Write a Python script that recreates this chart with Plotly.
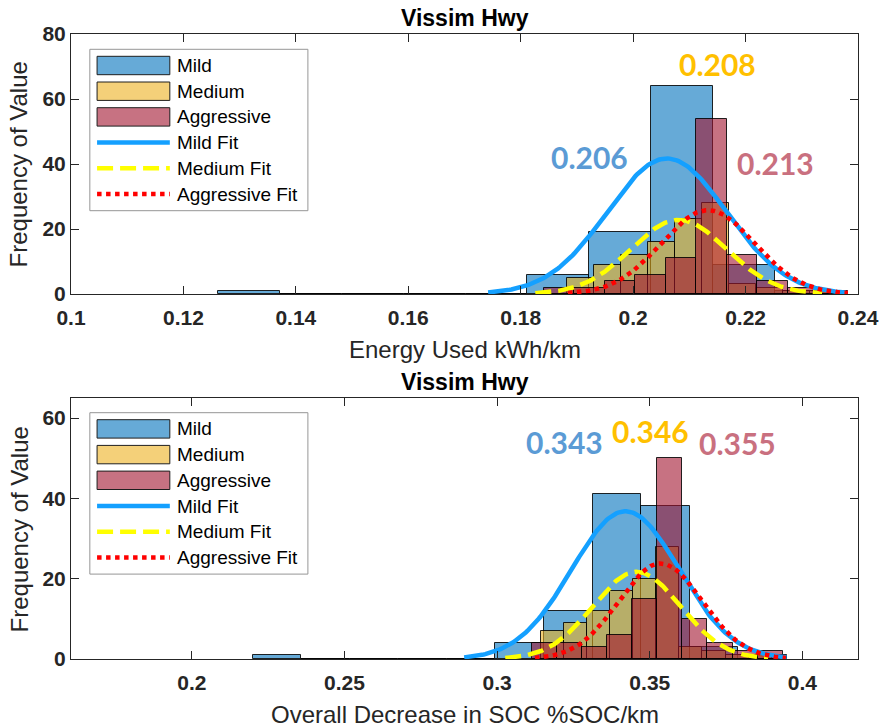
import numpy as np
import plotly.graph_objects as go

# ---------------- data ----------------
# Top panel: Energy Used kWh/km
top_mild_edge0, top_mild_width = 0.1262, 0.0110
top_mild_counts = [1, 0, 0, 0, 0, 6, 19, 64, 9, 1]
top_med_edge0, top_med_width = 0.1882, 0.0048
top_med_counts = [5, 9, 12, 16, 23, 28, 3, 2, 1, 1]
top_agg_edge0, top_agg_width = 0.1841, 0.00542
top_agg_counts = [2, 2, 4, 6, 11, 54, 12, 4, 2, 1]
# normal fits: mean, sigma, peak height
top_fit_mean = [0.2060, 0.2081, 0.2133]
top_fit_sigma = [0.0106, 0.0085, 0.0083]
top_fit_peak = [41.7, 22.8, 25.8]
top_value_labels = ["0.206", "0.208", "0.213"]
top_value_x = [0.1922, 0.2150, 0.2253]
top_value_y = [42.2, 70.8, 40.3]
top_xticks = [0.10, 0.12, 0.14, 0.16, 0.18, 0.20, 0.22, 0.24]
top_xticktext = ["0.1", "0.12", "0.14", "0.16", "0.18", "0.2", "0.22", "0.24"]
top_yticks = [0, 20, 40, 60, 80]

# Bottom panel: Overall Decrease in SOC %SOC/km
bot_mild_edge0, bot_mild_width = 0.2199, 0.01591
bot_mild_counts = [1, 0, 0, 0, 0, 4, 12, 41, 38, 3, 1]
bot_med_edge0, bot_med_width = 0.3143, 0.007565
bot_med_counts = [7, 9, 12, 17, 20, 28, 3, 2, 1, 1]
bot_agg_edge0, bot_agg_width = 0.3113, 0.008225
bot_agg_counts = [4, 4, 3, 6, 15, 50, 10, 4, 2, 2]
bot_fit_mean = [0.3420, 0.3457, 0.3535]
bot_fit_sigma = [0.0176, 0.01435, 0.0137]
bot_fit_peak = [36.8, 21.7, 23.8]
bot_value_labels = ["0.343", "0.346", "0.355"]
bot_value_x = [0.3221, 0.3503, 0.3786]
bot_value_y = [54.0, 56.9, 53.7]
bot_xticks = [0.20, 0.25, 0.30, 0.35, 0.40]
bot_xticktext = ["0.2", "0.25", "0.3", "0.35", "0.4"]
bot_yticks = [0, 20, 40, 60]

series_names = ["Mild", "Medium", "Aggressive"]
fit_names = ["Mild Fit", "Medium Fit", "Aggressive Fit"]
titles = ["Vissim Hwy", "Vissim Hwy"]
xlabels = ["Energy Used kWh/km", "Overall Decrease in SOC %SOC/km"]
ylabel = "Frequency of Value"

# ---------------- styles ----------------
bar_colors = ["rgba(0,114,189,0.6)", "rgba(237,177,32,0.6)", "rgba(162,20,47,0.6)"]
fit_colors = ["rgb(20,160,255)", "rgb(255,255,0)", "rgb(255,0,0)"]
fit_dash = ["solid", "16px,7px", "4.5px,4.5px"]
value_colors = ["#5B9BD5", "#FFC000", "#C9707F"]
FONT = "Liberation Sans, Arial, sans-serif"
AXC = "rgb(38,38,38)"

W, H = 891, 728
ML, MR, MT, MB = 71, 26, 34, 69
PW, PH = W - ML - MR, H - MT - MB


def pxx(x):
    return (x - ML) / PW


def pxy(y):
    return (H - MB - y) / PH


fig = go.Figure()

panels = [
    dict(xa="x", ya="y",
         bars=[(top_mild_edge0, top_mild_width, top_mild_counts),
               (top_med_edge0, top_med_width, top_med_counts),
               (top_agg_edge0, top_agg_width, top_agg_counts)],
         fits=(top_fit_mean, top_fit_sigma, top_fit_peak),
         vals=(top_value_labels, top_value_x, top_value_y)),
    dict(xa="x2", ya="y2",
         bars=[(bot_mild_edge0, bot_mild_width, bot_mild_counts),
               (bot_med_edge0, bot_med_width, bot_med_counts),
               (bot_agg_edge0, bot_agg_width, bot_agg_counts)],
         fits=(bot_fit_mean, bot_fit_sigma, bot_fit_peak),
         vals=(bot_value_labels, bot_value_x, bot_value_y)),
]

annotations = []
shapes = []

for p in panels:
    for i, (e0, w, counts) in enumerate(p["bars"]):
        centers = [e0 + (k + 0.5) * w for k in range(len(counts))]
        fig.add_trace(go.Bar(
            x=centers, y=counts, width=w, name=series_names[i],
            marker=dict(color=bar_colors[i], line=dict(color="rgba(0,0,0,0.85)", width=1)),
            xaxis=p["xa"], yaxis=p["ya"], showlegend=False))
    mus, sigs, peaks = p["fits"]
    for i in range(3):
        xs = np.linspace(mus[i] - 3 * sigs[i], mus[i] + 3 * sigs[i], 200)
        ys = peaks[i] * np.exp(-0.5 * ((xs - mus[i]) / sigs[i]) ** 2)
        fig.add_trace(go.Scatter(
            x=xs, y=ys, mode="lines", name=fit_names[i],
            line=dict(color=fit_colors[i], width=4.5, dash=fit_dash[i]),
            xaxis=p["xa"], yaxis=p["ya"], showlegend=False))
    labs, lx, ly = p["vals"]
    for i in range(3):
        annotations.append(dict(
            x=lx[i], y=ly[i], xref=p["xa"], yref=p["ya"], text=labs[i], showarrow=False,
            font=dict(family="Lato, Open Sans, sans-serif", size=30, color=value_colors[i], weight="bold"),
            xanchor="center", yanchor="middle"))


# ---------- custom MATLAB-like legends ----------
def add_legend(box_top):
    shapes.append(dict(type="rect", xref="paper", yref="paper",
                       x0=pxx(90), x1=pxx(310), y0=pxy(box_top + 161.4), y1=pxy(box_top),
                       line=dict(color="rgb(150,150,150)", width=1), fillcolor="white", layer="above"))
    names = series_names + fit_names
    for k in range(6):
        cy = box_top + 16.2 + k * 25.7
        if k < 3:
            shapes.append(dict(type="rect", xref="paper", yref="paper",
                               x0=pxx(97.3), x1=pxx(170.7), y0=pxy(cy + 9.2), y1=pxy(cy - 9.2),
                               line=dict(color="rgb(30,30,30)", width=1),
                               fillcolor=bar_colors[k], layer="above"))
        else:
            j = k - 3
            shapes.append(dict(type="line", xref="paper", yref="paper",
                               x0=pxx(97.3), x1=pxx(170.7), y0=pxy(cy), y1=pxy(cy),
                               line=dict(color=fit_colors[j], width=4.5, dash=fit_dash[j]),
                               layer="above"))
        annotations.append(dict(x=pxx(175.5), y=pxy(cy), xref="paper", yref="paper",
                                text=names[k], showarrow=False, xanchor="left", yanchor="middle",
                                font=dict(family=FONT, size=19, color="black")))


add_legend(49.3)
add_legend(412.7)

# ---------- titles and axis labels ----------
for ttl_y, xl_y, yl_y, ttl, xl in [(18, 349, 164, titles[0], xlabels[0]),
                                   (382, 714, 529, titles[1], xlabels[1])]:
    annotations.append(dict(x=0.5, y=pxy(ttl_y), xref="paper", yref="paper", text=ttl,
                            showarrow=False, xanchor="center", yanchor="middle",
                            font=dict(family=FONT, size=23, color="black", weight="bold")))
    annotations.append(dict(x=0.5, y=pxy(xl_y), xref="paper", yref="paper", text=xl,
                            showarrow=False, xanchor="center", yanchor="middle",
                            font=dict(family=FONT, size=24, color=AXC)))
    annotations.append(dict(x=pxx(19), y=pxy(yl_y), xref="paper", yref="paper", text=ylabel,
                            showarrow=False, xanchor="center", yanchor="middle", textangle=-90,
                            font=dict(family=FONT, size=24, color=AXC)))

axis_common = dict(showline=True, linecolor=AXC, linewidth=1, mirror="ticks",
                   ticks="inside", ticklen=8, tickwidth=1, tickcolor=AXC,
                   showgrid=False, zeroline=False,
                   tickfont=dict(family=FONT, size=21, color=AXC, weight="bold"))

fig.update_layout(
    width=W, height=H,
    margin=dict(l=ML, r=MR, t=MT, b=MB),
    paper_bgcolor="white", plot_bgcolor="white",
    barmode="overlay", bargap=0,
    showlegend=False,
    xaxis=dict(domain=[0, 1], range=[0.1, 0.24], tickvals=top_xticks, ticktext=top_xticktext,
               anchor="y", ticklabelstandoff=5, **axis_common),
    yaxis=dict(domain=[pxy(294), 1.0], range=[0, 80], tickvals=top_yticks, anchor="x", **axis_common),
    xaxis2=dict(domain=[0, 1], range=[0.1604, 0.4182], tickvals=bot_xticks, ticktext=bot_xticktext,
                anchor="y2", ticklabelstandoff=5, **axis_common),
    yaxis2=dict(domain=[0, pxy(398)], range=[0, 65], tickvals=bot_yticks, anchor="x2", **axis_common),
    annotations=annotations,
    shapes=shapes,
)

fig.write_html("out.html")
